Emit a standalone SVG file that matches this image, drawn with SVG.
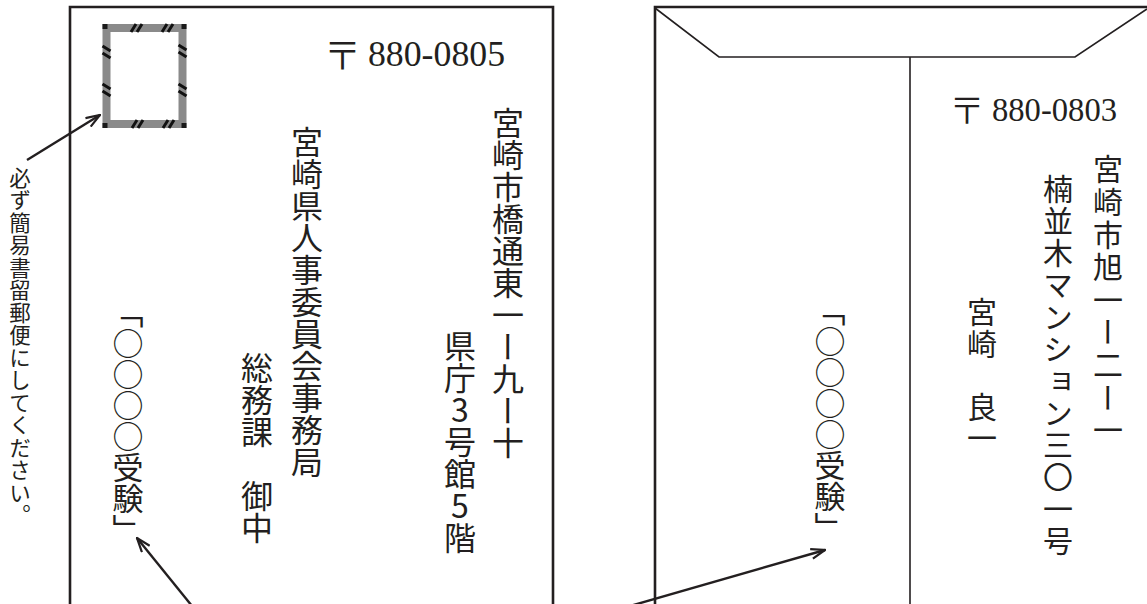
<svg xmlns="http://www.w3.org/2000/svg" width="1147" height="604" viewBox="0 0 1147 604">
<defs>
<style>
.bg{fill:#fff}
.env{fill:none;stroke:#231f20;stroke-width:2.6}
.thin{fill:none;stroke:#231f20;stroke-width:1.6}
.arr{fill:none;stroke:#231f20;stroke-width:2.4;marker-end:url(#ah)}
.v{writing-mode:vertical-rl;text-orientation:upright;font-family:"Noto Sans CJK JP","Noto Sans CJK SC",sans-serif;fill:#231f20}
.zip{font-family:"Liberation Serif","Times New Roman",serif;fill:#231f20}
.yu{font-family:"Noto Sans CJK JP",sans-serif;fill:#231f20;text-anchor:middle;font-weight:300}
.stripe{stroke:#111;stroke-width:3}
</style>
<marker id="ah" viewBox="0 0 16 12" refX="15" refY="6" markerWidth="16" markerHeight="12" markerUnits="userSpaceOnUse" orient="auto">
<path d="M1,1 L15,6 L1,11" fill="none" stroke="#231f20" stroke-width="2.2"/>
</marker>
</defs>
<rect class="bg" x="0" y="0" width="1147" height="604"/>

<g id="envelope-front">
<path class="env" d="M70,606 V7 H553 V606"/>
</g>

<g id="stamp">
<rect x="106.5" y="28" width="76" height="96" fill="none" stroke="#8a8a8a" stroke-width="8"/>
<rect x="102.5" y="24" width="5" height="5" fill="#1a1a1a"/>
<rect x="181.5" y="24" width="5" height="5" fill="#1a1a1a"/>
<rect x="102.5" y="123" width="5" height="5" fill="#1a1a1a"/>
<rect x="181.5" y="123" width="5" height="5" fill="#1a1a1a"/>
<path class="stripe" d="M131,32 L136,24 M137,32 L142,24 M162,32 L167,24 M168,32 L173,24 M132,128 L137,120 M138,128 L143,120 M163,128 L168,120 M169,128 L174,120 M102.5,46 L110.5,51 M102.5,53 L110.5,58 M102.5,84 L110.5,89 M102.5,91 L110.5,96 M178.5,45 L186.5,50 M178.5,52 L186.5,57 M178.5,84 L186.5,89 M178.5,91 L186.5,96"/>
</g>

<g id="note">
<text class="v" x="20" y="167" font-size="21.5" letter-spacing="1">必ず簡易書留郵便にしてください。</text>
</g>

<g id="zip-front">
<text class="yu" x="342.5" y="69" font-size="38">〒</text>
<text class="zip" x="368" y="66" font-size="35" textLength="137" lengthAdjust="spacingAndGlyphs">880-0805</text>
</g>

<g id="addr-front-1"><text class="v" x="508" y="107" font-size="32">宮崎市橋通東一ー九ー十</text></g>
<g id="addr-front-2"><text class="v" x="460" y="330" font-size="32">県庁3号館5階</text></g>
<g id="addressee-1"><text class="v" x="307" y="126" font-size="32">宮崎県人事委員会事務局</text></g>
<g id="addressee-2"><text class="v" x="257" y="352" font-size="32">総務課　御中</text></g>
<g id="exam-front"><text class="v" x="128" y="297" font-size="31">「○○○○受験」</text></g>

<g id="envelope-back">
<path class="env" d="M655,606 V7 H1149"/>
<path class="thin" d="M655,8 L719,57 H1075 L1147,9"/>
<path class="thin" d="M910,57 V606"/>
</g>

<g id="zip-back">
<text class="yu" x="967" y="124" font-size="36">〒</text>
<text class="zip" x="992" y="121" font-size="33" textLength="125" lengthAdjust="spacingAndGlyphs">880-0803</text>
</g>

<g id="sender-1"><text class="v" x="1108" y="154" font-size="30" letter-spacing="2.6">宮崎市旭一ー二ー一</text></g>
<g id="sender-2"><text class="v" x="1058" y="174" font-size="30" letter-spacing="2">楠並木マンション三〇一号</text></g>
<g id="sender-3"><text class="v" x="982" y="297" font-size="30" letter-spacing="1.5">宮崎　良一</text></g>
<g id="exam-back"><text class="v" x="830" y="295" font-size="31">「○○○○受験」</text></g>

<g id="connectors">
<line class="arr" x1="27" y1="160" x2="100" y2="115"/>
<line class="arr" x1="192" y1="606" x2="137" y2="538"/>
<line class="arr" x1="630" y1="606" x2="825" y2="550"/>
</g>
</svg>
